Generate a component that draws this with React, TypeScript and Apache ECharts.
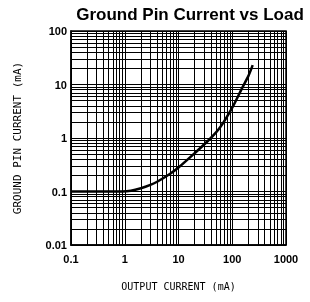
import React, { useEffect, useRef } from "react";
import * as echarts from "echarts";

const outputCurrent = [0.1, 0.3, 0.6, 0.9, 1.3, 2, 3, 4, 7, 10, 20, 40, 60, 100, 150, 200, 240];
const groundCurrent = [0.1, 0.1, 0.1, 0.1, 0.103, 0.115, 0.133, 0.152, 0.215, 0.28, 0.52, 1.0, 1.6, 3.7, 8.3, 14.5, 23];

const xDecades = [0.1, 1, 10, 100];
const yDecades = [0.01, 0.1, 1, 10];
const minorMultipliers = [2, 3, 4, 5, 6, 7, 8, 9];

const titleText = "Ground Pin Current vs Load";
const xName = "OUTPUT CURRENT (mA)";
const yName = "GROUND PIN CURRENT (mA)";

export default function App() {
  const ref = useRef<HTMLDivElement>(null);
  useEffect(() => {
    if (!ref.current) return;
    const chart = echarts.init(ref.current, undefined, { renderer: "svg" });
    const xMinor: number[] = [];
    xDecades.forEach((d) => minorMultipliers.forEach((m) => xMinor.push(+(d * m).toPrecision(3))));
    const yMinor: number[] = [];
    yDecades.forEach((d) => minorMultipliers.forEach((m) => yMinor.push(+(d * m).toPrecision(3))));
    const labelFont = { fontFamily: "Liberation Sans", fontWeight: "bold" as const, fontSize: 11, color: "#000" };
    chart.setOption({
      animation: false,
      title: {
        text: titleText,
        left: 185,
        top: 1,
        textAlign: "center",
        textStyle: { fontFamily: "Liberation Sans", fontWeight: "bold", fontSize: 17, color: "#000" },
      },
      grid: { left: 71, top: 31, width: 215, height: 214, show: true, borderColor: "#000", borderWidth: 1.5, backgroundColor: "#fff" },
      xAxis: {
        type: "log",
        logBase: 10,
        min: 0.1,
        max: 1000,
        name: xName,
        nameLocation: "middle",
        nameGap: 36,
        nameTextStyle: { fontFamily: "DejaVu Sans Mono", fontSize: 10, color: "#000" },
        axisLine: { show: true, lineStyle: { color: "#000", width: 1.5 } },
        axisTick: { show: false },
        axisLabel: { ...labelFont, margin: 8, formatter: (v: number) => String(v) },
        splitLine: { show: true, lineStyle: { color: "#000", width: 1 } },
      },
      yAxis: {
        type: "log",
        logBase: 10,
        min: 0.01,
        max: 100,
        name: yName,
        nameLocation: "middle",
        nameGap: 48,
        nameTextStyle: { fontFamily: "DejaVu Sans Mono", fontSize: 11, color: "#000" },
        axisLine: { show: true, lineStyle: { color: "#000", width: 1.5 } },
        axisTick: { show: false },
        axisLabel: { ...labelFont, margin: 4, formatter: (v: number) => String(v) },
        splitLine: { show: true, lineStyle: { color: "#000", width: 1 } },
      },
      series: [
        {
          type: "line",
          data: [[0.1, 0.01]],
          symbol: "none",
          lineStyle: { opacity: 0 },
          z: 1,
          markLine: {
            silent: true,
            animation: false,
            symbol: ["none", "none"],
            label: { show: false },
            lineStyle: { color: "#000", width: 1, type: "solid" },
            data: [
              ...xMinor.map((v) => ({ xAxis: v })),
              ...yMinor.map((v) => ({ yAxis: v })),
            ],
          },
        },
        {
          type: "line",
          data: outputCurrent.map((x, i) => [x, groundCurrent[i]]),
          smooth: 0.3,
          symbol: "none",
          lineStyle: { color: "#000", width: 2.5 },
          z: 5,
        },
      ],
    });
    return () => chart.dispose();
  }, []);
  return <div ref={ref} style={{ position: "fixed", left: 0, top: 0, width: 310, height: 302 }} />;
}
